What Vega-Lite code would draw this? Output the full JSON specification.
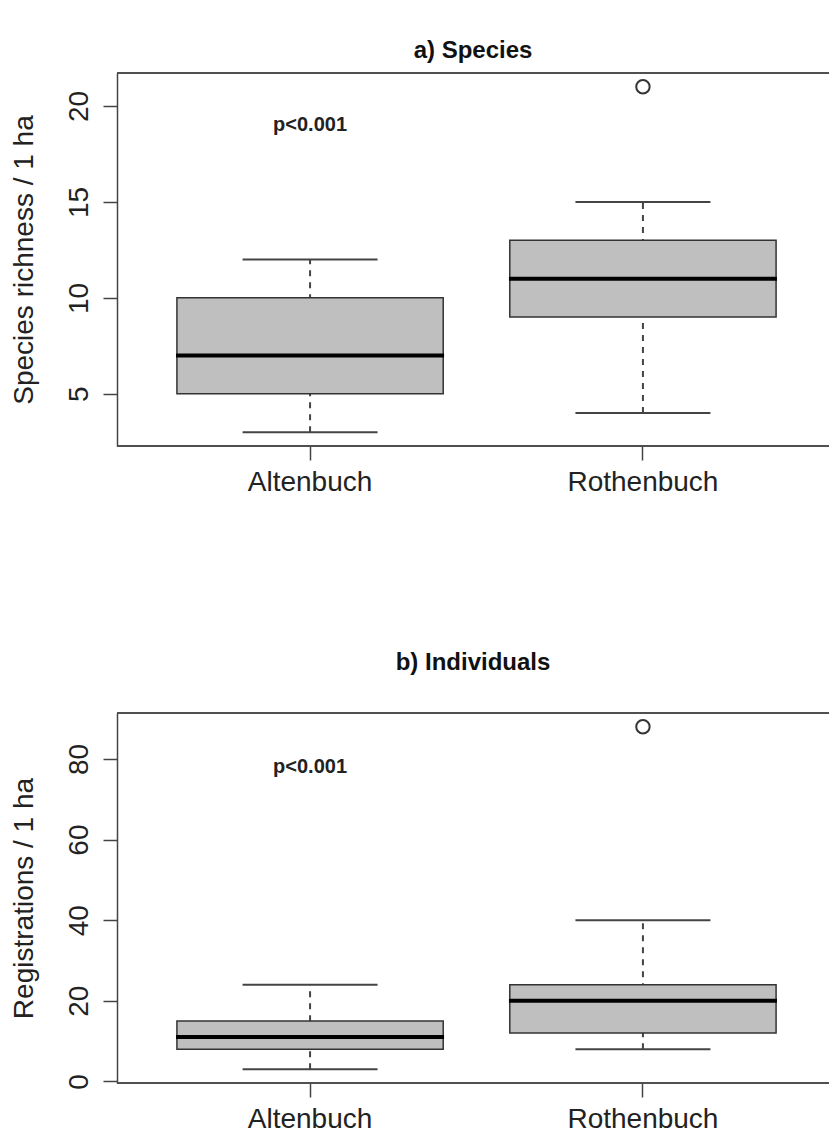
{
  "$schema": "https://vega.github.io/schema/vega-lite/v6.json",
  "background": "white",
  "padding": {"left": 9, "right": 0, "top": 39, "bottom": 0},
  "spacing": 155,
  "config": {
    "view": {"stroke": null},
    "font": "Liberation Sans",
    "axis": {"grid": false, "labelColor": "#222", "titleColor": "#222", "tickColor": "#444", "domainColor": "#444", "tickWidth": 1.5, "domainWidth": 1.5, "tickSize": 14, "labelFontSize": 28, "titleFontSize": 28, "titleFontWeight": "normal", "labelFont": "Liberation Sans", "titleFont": "Liberation Sans"},
    "title": {"font": "Liberation Sans", "fontSize": 24, "fontWeight": "bold", "color": "#111", "anchor": "middle"}
  },
  "vconcat": [
    {
      "title": {"text": "a) Species", "offset": 9},
      "width": 712,
      "height": 373,
      "data": {"values": [
        {"site": "Altenbuch", "lo": 3, "q1": 5, "med": 7, "q3": 10, "hi": 12},
        {"site": "Rothenbuch", "lo": 4, "q1": 9, "med": 11, "q3": 13, "hi": 15}
      ]},
      "layer": [
        {
          "mark": {"type": "rule", "strokeDash": [6, 6], "strokeWidth": 2, "color": "#444"},
          "encoding": {
            "x": {"field": "site", "type": "nominal", "sort": null, "scale": {"range": [0, 719], "paddingInner": 0.2, "paddingOuter": 0.18},
              "axis": {"title": null, "domain": false, "labelAngle": 0, "labelPadding": 8}},
            "y": {"field": "lo", "type": "quantitative", "scale": {"domain": [2.28, 21.72], "nice": false, "zero": false},
              "axis": {"values": [5, 10, 15, 20], "labelAngle": -90, "labelPadding": 10, "title": "Species richness / 1 ha", "titlePadding": 27}},
            "y2": {"field": "hi"}
          }
        },
        {
          "mark": {"type": "tick", "size": 135, "thickness": 2, "color": "#444", "opacity": 1},
          "encoding": {"x": {"field": "site", "type": "nominal"}, "y": {"field": "lo", "type": "quantitative"}}
        },
        {
          "mark": {"type": "tick", "size": 135, "thickness": 2, "color": "#444", "opacity": 1},
          "encoding": {"x": {"field": "site", "type": "nominal"}, "y": {"field": "hi", "type": "quantitative"}}
        },
        {
          "mark": {"type": "bar", "fill": "#bfbfbf", "stroke": "#333", "strokeWidth": 1.5, "opacity": 1},
          "encoding": {"x": {"field": "site", "type": "nominal"}, "y": {"field": "q1", "type": "quantitative"}, "y2": {"field": "q3"}}
        },
        {
          "mark": {"type": "tick", "size": 268, "thickness": 4, "color": "#000", "opacity": 1},
          "encoding": {"x": {"field": "site", "type": "nominal"}, "y": {"field": "med", "type": "quantitative"}}
        },
        {
          "data": {"values": [{"site": "Rothenbuch", "value": 21}]},
          "mark": {"type": "point", "filled": false, "size": 180, "strokeWidth": 2, "color": "#333", "opacity": 1},
          "encoding": {"x": {"field": "site", "type": "nominal"}, "y": {"field": "value", "type": "quantitative"}}
        },
        {
          "data": {"values": [{"site": "Altenbuch", "y": 19, "label": "p<0.001"}]},
          "mark": {"type": "text", "fontSize": 20, "fontWeight": "bold", "color": "#222", "font": "Liberation Sans"},
          "encoding": {"x": {"field": "site", "type": "nominal"}, "y": {"field": "y", "type": "quantitative"}, "text": {"field": "label"}}
        },
        {
          "mark": {"type": "rule", "color": "#444", "strokeWidth": 1.5},
          "encoding": {"y": {"datum": 21.72}}
        },
        {
          "mark": {"type": "rule", "color": "#444", "strokeWidth": 1.5},
          "encoding": {"y": {"datum": 2.28}}
        }
      ]
    },
    {
      "title": {"text": "b) Individuals", "offset": 37},
      "width": 712,
      "height": 370,
      "data": {"values": [
        {"site": "Altenbuch", "lo": 3, "q1": 8, "med": 11, "q3": 15, "hi": 24},
        {"site": "Rothenbuch", "lo": 8, "q1": 12, "med": 20, "q3": 24, "hi": 40}
      ]},
      "layer": [
        {
          "mark": {"type": "rule", "strokeDash": [6, 6], "strokeWidth": 2, "color": "#444"},
          "encoding": {
            "x": {"field": "site", "type": "nominal", "sort": null, "scale": {"range": [0, 719], "paddingInner": 0.2, "paddingOuter": 0.18},
              "axis": {"title": null, "domain": false, "labelAngle": 0, "labelPadding": 8}},
            "y": {"field": "lo", "type": "quantitative", "scale": {"domain": [-0.4, 91.4], "nice": false, "zero": false},
              "axis": {"values": [0, 20, 40, 60, 80], "labelAngle": -90, "labelPadding": 10, "title": "Registrations / 1 ha", "titlePadding": 27}},
            "y2": {"field": "hi"}
          }
        },
        {
          "mark": {"type": "tick", "size": 135, "thickness": 2, "color": "#444", "opacity": 1},
          "encoding": {"x": {"field": "site", "type": "nominal"}, "y": {"field": "lo", "type": "quantitative"}}
        },
        {
          "mark": {"type": "tick", "size": 135, "thickness": 2, "color": "#444", "opacity": 1},
          "encoding": {"x": {"field": "site", "type": "nominal"}, "y": {"field": "hi", "type": "quantitative"}}
        },
        {
          "mark": {"type": "bar", "fill": "#bfbfbf", "stroke": "#333", "strokeWidth": 1.5, "opacity": 1},
          "encoding": {"x": {"field": "site", "type": "nominal"}, "y": {"field": "q1", "type": "quantitative"}, "y2": {"field": "q3"}}
        },
        {
          "mark": {"type": "tick", "size": 268, "thickness": 4, "color": "#000", "opacity": 1},
          "encoding": {"x": {"field": "site", "type": "nominal"}, "y": {"field": "med", "type": "quantitative"}}
        },
        {
          "data": {"values": [{"site": "Rothenbuch", "value": 88}]},
          "mark": {"type": "point", "filled": false, "size": 180, "strokeWidth": 2, "color": "#333", "opacity": 1},
          "encoding": {"x": {"field": "site", "type": "nominal"}, "y": {"field": "value", "type": "quantitative"}}
        },
        {
          "data": {"values": [{"site": "Altenbuch", "y": 78, "label": "p<0.001"}]},
          "mark": {"type": "text", "fontSize": 20, "fontWeight": "bold", "color": "#222", "font": "Liberation Sans"},
          "encoding": {"x": {"field": "site", "type": "nominal"}, "y": {"field": "y", "type": "quantitative"}, "text": {"field": "label"}}
        },
        {
          "mark": {"type": "rule", "color": "#444", "strokeWidth": 1.5},
          "encoding": {"y": {"datum": 91.4}}
        },
        {
          "mark": {"type": "rule", "color": "#444", "strokeWidth": 1.5},
          "encoding": {"y": {"datum": -0.4}}
        }
      ]
    }
  ]
}
